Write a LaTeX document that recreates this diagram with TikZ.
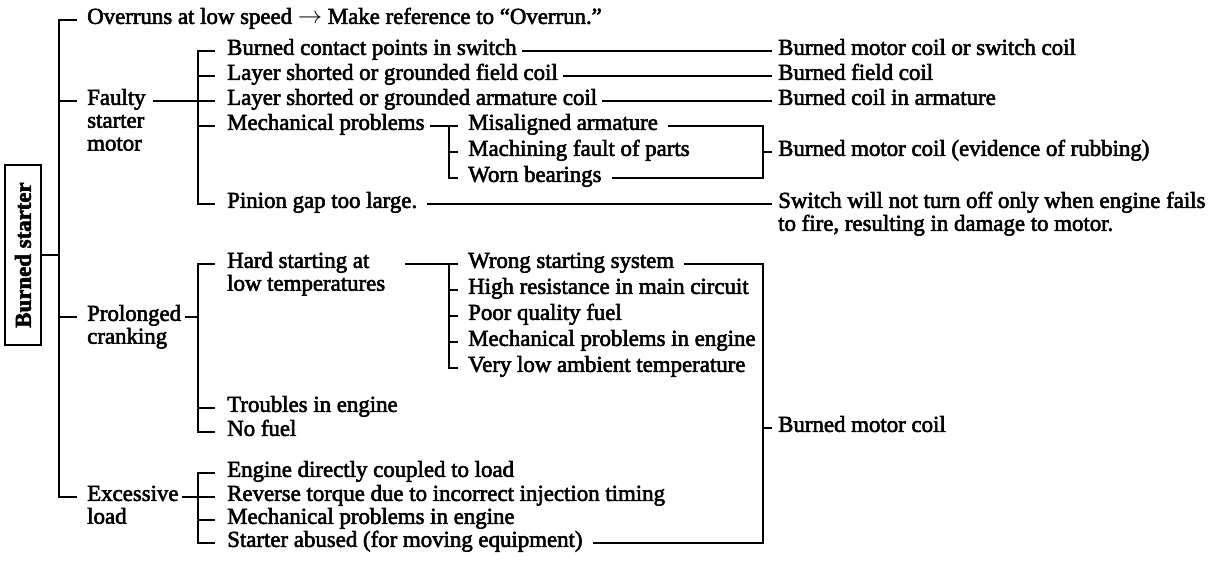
\documentclass[tikz,border=0pt]{standalone}
\usepackage{fontspec}
\setmainfont{Liberation Serif}[FakeBold=2.5]
\usetikzlibrary{positioning,calc}

% text stacked in lines, baseline at the first line
\newcommand{\stackl}[1]{\begin{tabular}[t]{@{}l@{}}#1\end{tabular}}

\begin{document}
\begin{tikzpicture}[x=0.3mm,y=-0.3mm,
    every node/.style={font=\fontsize{19.5}{19.5}\selectfont},
    item/.style={anchor=west, inner sep=0pt, text height=0.66em, text depth=0pt},
    tree/.style={line width=1.2pt}]
    \useasboundingbox (0,0) rectangle (1227,577);

    % bracket columns
    \coordinate (trunk) at (59,0);
    \coordinate (fb) at (198,0);
    \coordinate (mb) at (449,0);
    \coordinate (rb) at (763,0);

    \node[draw, line width=1.2pt, rotate=90, font=\fontsize{19.5}{20}\selectfont\bfseries,
          minimum width=54mm, minimum height=10.8mm, inner sep=0pt] (start) at (23,255) {Burned starter};

    \node[item] (ovr) at (87,20) {Overruns at low speed $\rightarrow$ Make reference to ``Overrun.''};
    \node[item] (faulty) at (87,101) {\stackl{Faulty\\starter\\motor}};
    \node[item] (prolonged) at (87,317) {\stackl{Prolonged\\cranking}};
    \node[item] (excess) at (87,497) {\stackl{Excessive\\load}};

    % faulty starter motor
    \node[item] (contact) at (227,51) {Burned contact points in switch};
    \node[item] (field) at (227,76) {Layer shorted or grounded field coil};
    \node[item] (armature) at (227,101) {Layer shorted or grounded armature coil};
    \node[item] (mech) at (227,126) {Mechanical problems};
    \node[item] (pinion) at (227,204) {Pinion gap too large.};

    \node[item] (misalign) at (468,126) {Misaligned armature};
    \node[item] (machining) at (468,152) {Machining fault of parts};
    \node[item] (worn) at (468,178) {Worn bearings};

    \node[item] (r1) at (778,51) {Burned motor coil or switch coil};
    \node[item] (r2) at (778,76) {Burned field coil};
    \node[item] (r3) at (778,101) {Burned coil in armature};
    \node[item] (rubbing) at (778,152) {Burned motor coil (evidence of rubbing)};
    \node[item] (switch) at (778,204) {\stackl{Switch will not turn off only when engine fails\\to fire, resulting in damage to motor.}};

    % prolonged cranking
    \node[item] (hard) at (227,264) {\stackl{Hard starting at\\low temperatures}};
    \node[item] (troubles) at (227,408) {Troubles in engine};
    \node[item] (nofuel) at (227,432) {No fuel};

    \node[item] (wrong) at (468,264) {Wrong starting system};
    \node[item] (highres) at (468,290) {High resistance in main circuit};
    \node[item] (poor) at (468,316) {Poor quality fuel};
    \node[item] (mechengine) at (468,342) {Mechanical problems in engine};
    \node[item] (verylow) at (468,368) {Very low ambient temperature};

    \node[item] (coil) at (778,428) {Burned motor coil};

    % excessive load
    \node[item] (coupled) at (227,473) {Engine directly coupled to load};
    \node[item] (reverse) at (227,497) {Reverse torque due to incorrect injection timing};
    \node[item] (mechprob) at (227,520) {Mechanical problems in engine};
    \node[item] (abused) at (227,543) {Starter abused (for moving equipment)};

    % trunk
    \draw[tree] ([xshift=-3mm]ovr.west) -| (trunk |- excess) -- ([xshift=-3mm]excess.west);
    \draw[tree] (trunk |- faulty) -- ([xshift=-3mm]faulty.west);
    \draw[tree] (trunk |- prolonged) -- ([xshift=-3mm]prolonged.west);
    \draw[tree] (start.south) -- (trunk |- start.south);

    % faulty starter motor
    \draw[tree] ([xshift=-3.6mm]contact.west) -| (fb |- pinion) -- ([xshift=-3.6mm]pinion.west);
    \draw[tree] (fb |- field) -- ([xshift=-3.6mm]field.west);
    \draw[tree] (fb |- mech) -- ([xshift=-3.6mm]mech.west);
    \draw[tree] ([xshift=2mm]faulty.east |- armature) -- ([xshift=-3.6mm]armature.west);

    \draw[tree] ([xshift=1.5mm]contact.east) -- ([xshift=-1.8mm]r1.west);
    \draw[tree] ([xshift=1.5mm]field.east) -- ([xshift=-1.8mm]r2.west);
    \draw[tree] ([xshift=1.5mm]armature.east) -- ([xshift=-1.8mm]r3.west);
    \draw[tree] ([xshift=3mm]pinion.east) -- ([xshift=-1.8mm]switch.west);

    \draw[tree] ([xshift=1.5mm]mech.east) -- ([xshift=-3mm]misalign.west);
    \draw[tree] (mb |- misalign) |- ([xshift=-3mm]worn.west);
    \draw[tree] (mb |- machining) -- ([xshift=-3mm]machining.west);
    \draw[tree] ([xshift=3mm]misalign.east) -| (rb |- worn) -- ([xshift=3mm]worn.east);
    \draw[tree] (rb |- rubbing) -- ([xshift=-1.8mm]rubbing.west);

    % prolonged cranking
    \draw[tree] ([xshift=-3.6mm]hard.west) -| (fb |- nofuel) -- ([xshift=-3.6mm]nofuel.west);
    \draw[tree] (fb |- troubles) -- ([xshift=-3.6mm]troubles.west);
    \draw[tree] ([xshift=1mm]prolonged.east) -- (fb |- prolonged);

    \draw[tree] ([xshift=6mm]hard.east |- wrong) -- ([xshift=-3mm]wrong.west);
    \draw[tree] (mb |- wrong) |- ([xshift=-3mm]verylow.west);
    \foreach \n in {highres,poor,mechengine}
        \draw[tree] (mb |- \n) -- ([xshift=-3mm]\n.west);
    \draw[tree] ([xshift=3mm]wrong.east) -| (rb |- abused) -- ([xshift=3mm]abused.east);
    \draw[tree] (rb |- coil) -- ([xshift=-1.8mm]coil.west);

    % excessive load
    \draw[tree] ([xshift=-3.6mm]coupled.west) -| (fb |- abused) -- ([xshift=-3.6mm]abused.west);
    \draw[tree] (fb |- mechprob) -- ([xshift=-3.6mm]mechprob.west);
    \draw[tree] ([xshift=1mm]excess.east) -- ([xshift=-3.6mm]reverse.west);
\end{tikzpicture}
\end{document}
